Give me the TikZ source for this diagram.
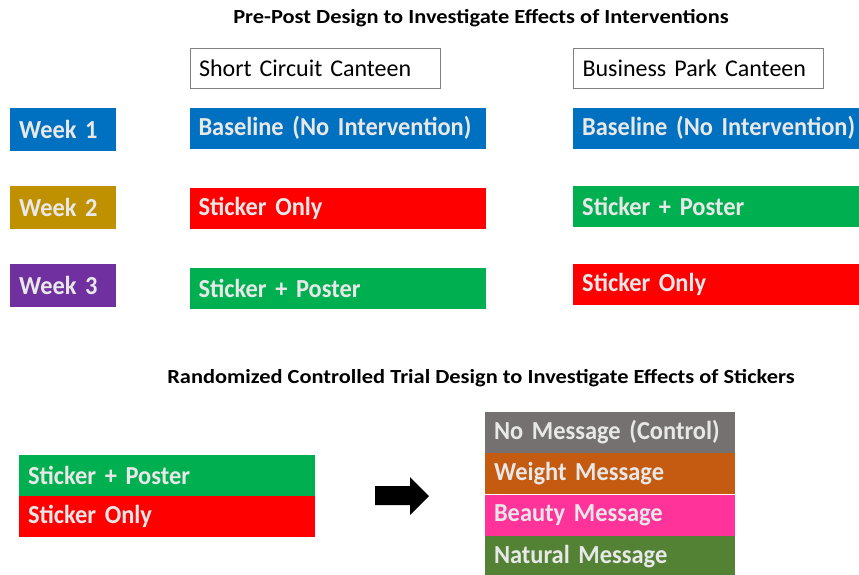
\documentclass[tikz,border=0pt]{standalone}
\usepackage{fontspec}
\setmainfont{Carlito}
\newfontfamily\headfont{Carlito}[FakeStretch=1.12]
\newfontfamily\barfont{Carlito}[FakeStretch=0.94]
\usetikzlibrary{positioning}
\definecolor{wkblue}{RGB}{0,112,192}
\definecolor{wkgold}{RGB}{191,144,0}
\definecolor{wkpurple}{RGB}{112,48,160}
\definecolor{stkred}{RGB}{255,0,0}
\definecolor{stkgreen}{RGB}{0,176,80}
\definecolor{msggray}{RGB}{118,113,113}
\definecolor{msgorange}{RGB}{197,90,17}
\definecolor{msgpink}{RGB}{255,51,153}
\definecolor{msgnature}{RGB}{84,130,53}
\definecolor{lbltext}{RGB}{232,232,232}

\begin{document}
\begin{tikzpicture}[x=1pt, y=-1pt,
      bar/.style={minimum height=41pt, inner xsep=9pt, inner ysep=0pt, align=left, text=lbltext, font=\barfont\fontsize{26}{29}\selectfont\bfseries},
      wide/.style={bar, text width=278pt},
      narrow/.style={bar, text width=88pt, minimum height=43pt},
      site/.style={draw=gray, line width=0.8pt, minimum width=250pt, minimum height=40pt, text width=232pt, inner xsep=9pt, align=left, font=\fontsize{24}{27}\selectfont},
      heading/.style={font=\headfont\fontsize{20}{24}\selectfont\bfseries}
    ]
      \useasboundingbox (0,0) rectangle (859,574);

      % pre-post part
      \node[heading] (preTitle) at (481, 18) {Pre-Post Design to Investigate Effects of Interventions};
      \node[site] (shortCircuit) at (315, 68) {Short Circuit Canteen};
      \node[site] (businessPark) at (698.5, 68) {Business Park Canteen};

      \node[narrow, fill=wkblue] (weekOne) at (63, 129.5) {Week 1};
      \node[narrow, fill=wkgold] (weekTwo) at (63, 207.5) {Week 2};
      \node[narrow, fill=wkpurple] (weekThree) at (63, 285.5) {Week 3};

      \node[wide, fill=wkblue] (scBase) at (337.5, 128) {Baseline (No Intervention)};
      \node[wide, fill=stkred] (scSticker) at (337.5, 208.5) {Sticker Only};
      \node[wide, fill=stkgreen] (scPoster) at (337.5, 288.5) {Sticker + Poster};

      \node[wide, fill=wkblue, anchor=west] (bpBase) at (573, 128) {Baseline (No Intervention)};
      \node[wide, fill=stkgreen, anchor=west] (bpPoster) at (573, 206.5) {Sticker + Poster};
      \node[wide, fill=stkred, anchor=west] (bpSticker) at (573, 284.5) {Sticker Only};

      % randomized trial part
      \node[heading] (rctTitle) at (481, 378) {Randomized Controlled Trial Design to Investigate Effects of Stickers};
      \node[bar, text width=278pt, fill=stkgreen] (rctPoster) at (167, 475) {Sticker + Poster};
      \node[bar, text width=278pt, fill=stkred, below=0pt of rctPoster] (rctSticker) {Sticker Only};

      % block arrow
      \fill (375,486) -- (410,486) -- (410,477) -- (429,496) -- (410,515) -- (410,505) -- (375,505) -- cycle;

      \node[bar, text width=232pt, fill=msggray] (msgNone) at (610, 432.5) {No Message (Control)};
      \node[bar, text width=232pt, fill=msgorange, below=0pt of msgNone] (msgWeight) {Weight Message};
      \node[bar, text width=232pt, fill=msgpink, below=0pt of msgWeight] (msgBeauty) {Beauty Message};
      \node[bar, text width=232pt, fill=msgnature, below=0pt of msgBeauty] (msgNatural) {Natural Message};
    \end{tikzpicture}
\end{document}
